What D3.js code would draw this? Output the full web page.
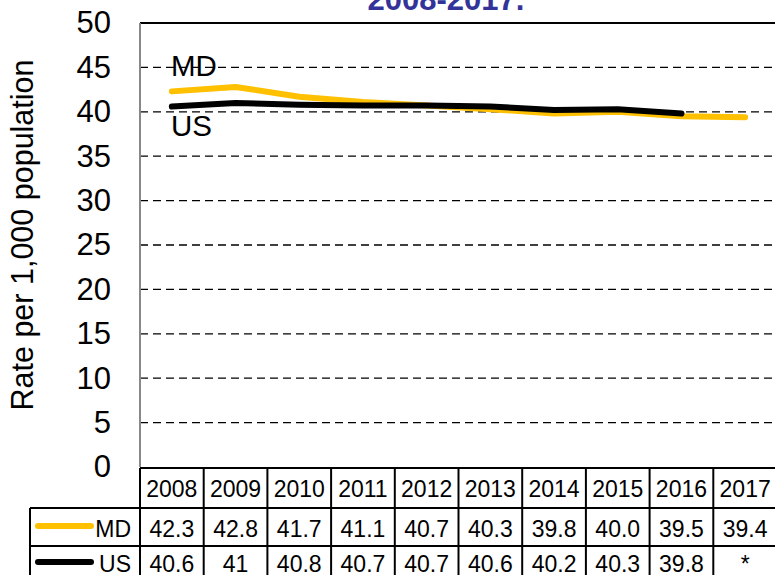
<!DOCTYPE html>
<html><head><meta charset="utf-8">
<script src="https://cdn.jsdelivr.net/npm/d3@7/dist/d3.min.js"></script>
<style>body{margin:0;background:#fff}svg{display:block;font-family:"Liberation Sans",Arial,sans-serif}</style>
</head><body>
<svg id="c" width="775" height="575"></svg>
<script>
const years = ["2008","2009","2010","2011","2012","2013","2014","2015","2016","2017"];
const mdValues = [42.3,42.8,41.7,41.1,40.7,40.3,39.8,40.0,39.5,39.4];
const mdLabels = ["42.3","42.8","41.7","41.1","40.7","40.3","39.8","40.0","39.5","39.4"];
const usValues = [40.6,41,40.8,40.7,40.7,40.6,40.2,40.3,39.8,null];
const usLabels = ["40.6","41","40.8","40.7","40.7","40.6","40.2","40.3","39.8","*"];
const yTicks = [0,5,10,15,20,25,30,35,40,45,50];
const series = [
  {name:"MD", values:mdValues, labels:mdLabels, color:"#FFC000"},
  {name:"US", values:usValues, labels:usLabels, color:"#000000"}
];

const svg = d3.select("#c");
const L=140, R=777, T=23, B=467;
const x = d3.scaleBand().domain(years).range([L,R]);
const y = d3.scaleLinear().domain([0,50]).range([B,T]);

// title (partially visible)
svg.append("text").attr("x",446).attr("y",10).attr("text-anchor","middle")
  .attr("font-size",31).attr("font-weight","bold").attr("fill","#333399").text("2008-2017.");

// gridlines
svg.append("g").selectAll("line").data(yTicks.filter(v=>v>0&&v<50)).join("line")
  .attr("x1",L).attr("x2",R).attr("y1",d=>y(d)).attr("y2",d=>y(d))
  .attr("stroke","#000").attr("stroke-width",1.3).attr("stroke-dasharray","8,5");
// top border
svg.append("line").attr("x1",L).attr("x2",R).attr("y1",y(50)).attr("y2",y(50))
  .attr("stroke","#000").attr("stroke-width",2);
// left axis line
svg.append("line").attr("x1",L).attr("x2",L).attr("y1",T).attr("y2",B)
  .attr("stroke","#888").attr("stroke-width",2);

// y axis
const yAxis = svg.append("g").attr("transform",`translate(${L},0)`)
  .call(d3.axisLeft(y).tickValues(yTicks).tickSize(0).tickPadding(29).tickFormat(d3.format("d")));
yAxis.select(".domain").remove();
yAxis.selectAll("text").attr("font-size",31).attr("fill","#000")
  .attr("font-family","'Liberation Sans',Arial,sans-serif");

// y title
svg.append("text").attr("transform","translate(33,235) rotate(-90)").attr("text-anchor","middle")
  .attr("font-size",30.5).attr("fill","#000").text("Rate per 1,000 population");

// lines
const line = d3.line().defined(d=>d.v!=null).x(d=>x(d.yr)+x.bandwidth()/2).y(d=>y(d.v));
series.forEach(s=>{
  svg.append("path").datum(years.map((yr,i)=>({yr,v:s.values[i]})))
    .attr("d",line).attr("fill","none").attr("stroke",s.color).attr("stroke-width",6)
    .attr("stroke-linecap","round").attr("stroke-linejoin","round");
});

// series labels
svg.append("text").attr("x",171).attr("y",76).attr("font-size",29.5).text("MD");
svg.append("text").attr("x",171).attr("y",136).attr("font-size",29.5).text("US");

// data table
const tg = svg.append("g");
const sw=2;
tg.append("line").attr("x1",L).attr("x2",R).attr("y1",468).attr("y2",468).attr("stroke","#000").attr("stroke-width",sw);
[508,546,585].forEach(yy=>{
  tg.append("line").attr("x1",30).attr("x2",R).attr("y1",yy).attr("y2",yy).attr("stroke","#000").attr("stroke-width",sw);
});
tg.append("line").attr("x1",30).attr("x2",30).attr("y1",508).attr("y2",585).attr("stroke","#000").attr("stroke-width",sw);
tg.selectAll("line.v").data(years.concat(["end"])).join("line").attr("class","v")
  .attr("x1",d=>d==="end"?R:x(d)).attr("x2",d=>d==="end"?R:x(d))
  .attr("y1",468).attr("y2",585).attr("stroke","#000").attr("stroke-width",sw);
tg.selectAll("text.h").data(years).join("text").attr("class","h")
  .attr("x",d=>x(d)+x.bandwidth()/2).attr("y",497).attr("text-anchor","middle")
  .attr("font-size",23).text(d=>d);
const baseY=[537,572], midY=[526,562];
series.forEach((s,si)=>{
  tg.selectAll("text.r"+si).data(s.labels).join("text").attr("class","r"+si)
    .attr("x",(d,i)=>x(years[i])+x.bandwidth()/2).attr("y",baseY[si]).attr("text-anchor","middle")
    .attr("font-size",23).text(d=>d);
  tg.append("line").attr("x1",38).attr("x2",91).attr("y1",midY[si]).attr("y2",midY[si])
    .attr("stroke",s.color).attr("stroke-width",6).attr("stroke-linecap","round");
  tg.append("text").attr("x",131).attr("y",baseY[si]).attr("text-anchor","end")
    .attr("font-size",23).text(s.name);
});
</script>
</body></html>
